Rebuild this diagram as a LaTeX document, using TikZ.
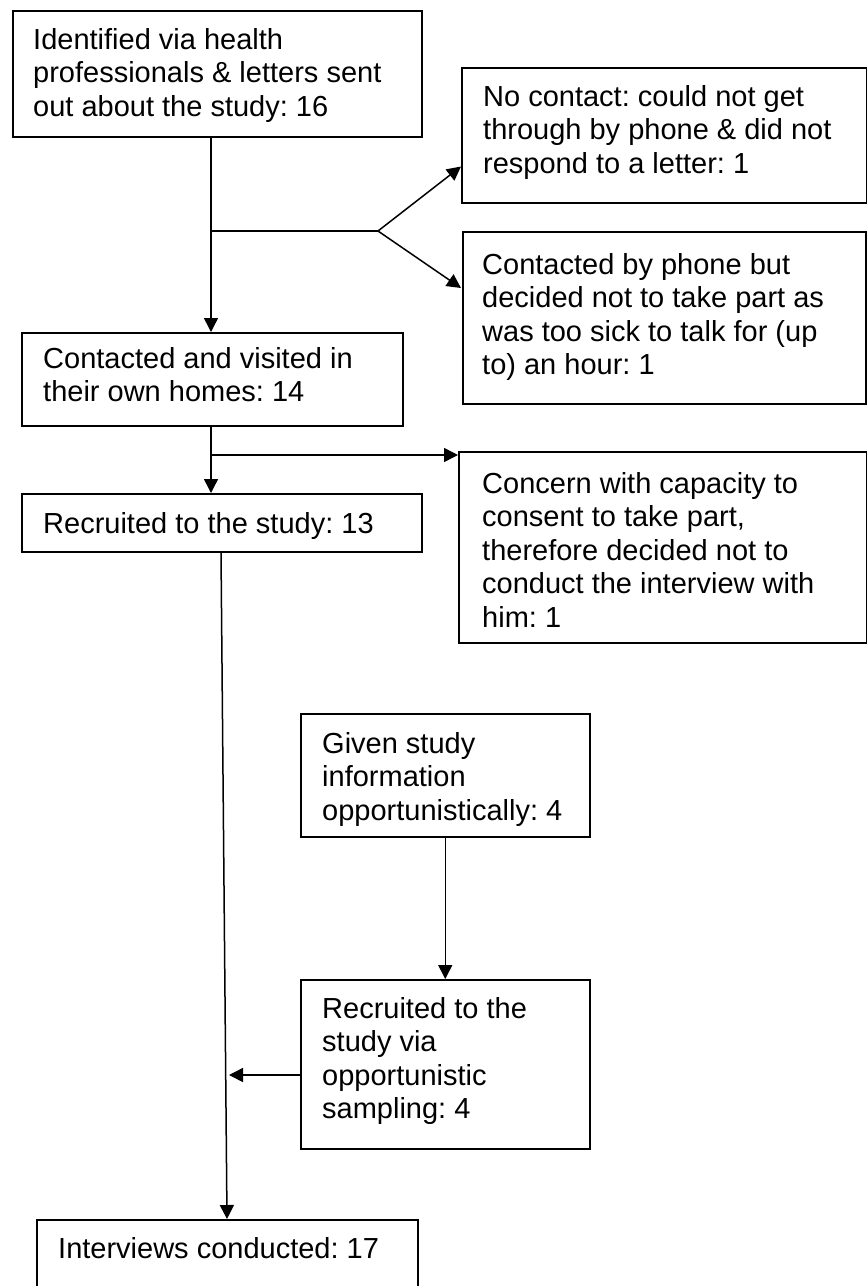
\documentclass[tikz,border=0pt]{standalone}
\usepackage{fontspec}
\setmainfont{Liberation Sans}
\usetikzlibrary{arrows.meta}
\frenchspacing
\begin{document}
\begin{tikzpicture}[x=1pt,y=-1pt,
  box/.style={draw=black,line width=1.5pt,rectangle,anchor=north west,inner sep=0pt},
  txt/.style={anchor=north west,inner sep=0pt,align=left,
    font=\fontsize{29}{33.5}\selectfont\frenchspacing},
  link/.style={draw=black,line width=1.5pt},
  arr/.style={link,-{Triangle[length=14pt,width=14pt]}}]
\useasboundingbox[fill=white] (0,0) rectangle (867,1286);

% boxes
\node[box,minimum width=409pt,minimum height=126pt] (b1) at (12,10) {};
\node[box,minimum width=405pt,minimum height=135pt] (b2) at (461,67) {};
\node[box,minimum width=403pt,minimum height=172pt] (b3) at (462,231) {};
\node[box,minimum width=381pt,minimum height=93pt]  (b4) at (21,332) {};
\node[box,minimum width=400pt,minimum height=58pt]  (b5) at (21,493) {};
\node[box,minimum width=408pt,minimum height=191pt] (b6) at (458,451) {};
\node[box,minimum width=289pt,minimum height=123pt] (b7) at (300,713) {};
\node[box,minimum width=289pt,minimum height=169pt] (b8) at (300,979) {};
\node[box,minimum width=381pt,minimum height=72pt]  (b9) at (36,1219) {};

% texts
\node[txt] (t1) at (33,28) {Identified via health\\professionals \& letters sent\\out about the study: 16};
\node[txt] (t2) at (483,85) {No contact: could not get\\through by phone \& did not\\respond to a letter: 1};
\node[txt] (t3) at (482,253) {Contacted by phone but\\decided not to take part as\\was too sick to talk for (up\\to) an hour: 1};
\node[txt] (t4) at (43,347) {Contacted and visited in\\their own homes: 14};
\node[txt] (t5) at (43,512) {Recruited to the study: 13};
\node[txt] (t6) at (482,472) {Concern with capacity to\\consent to take part,\\therefore decided not to\\conduct the interview with\\him: 1};
\node[txt] (t7) at (322,732) {Given study\\information\\opportunistically: 4};
\node[txt] (t8) at (322,997) {Recruited to the\\study via\\opportunistic\\sampling: 4};
\node[txt] (t9) at (58,1237) {Interviews conducted: 17};

% junction points
\coordinate (j1) at (211,231);
\coordinate (fork) at (378,231);
\coordinate (j2) at (211,455);
\coordinate (merge) at (229,1075);

% connectors
\draw[arr] (b1.south -| j1) -- (b4.north -| j1);
\draw[link] (j1) -- (fork);
\draw[arr] (fork) -- ([yshift=37pt]b2.south west);
\draw[arr] (fork) -- ([xshift=-1pt,yshift=-57pt]b3.north west);
\draw[arr] (b4.south -| j2) -- (b5.north -| j2);
\draw[arr] (j2) -- (b6.west |- j2);
\draw[arr] ([xshift=200pt]b5.south west) -- ([xshift=191pt]b9.north west);
\draw[arr] (b7.south) -- (b8.north);
\draw[arr] (b8.west |- merge) -- (merge);
\end{tikzpicture}
\end{document}
